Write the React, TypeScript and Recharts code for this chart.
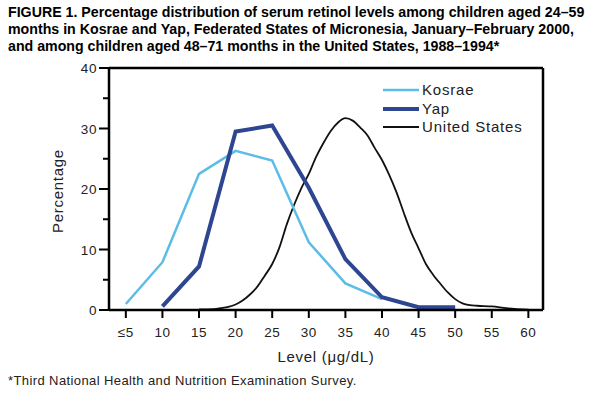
import React from 'react';
import { LineChart, Line, XAxis, YAxis, ReferenceLine } from 'recharts';

const levelTicks = [5, 10, 15, 20, 25, 30, 35, 40, 45, 50, 55, 60];
const percentTicks = [0, 5, 10, 15, 20, 25, 30, 35, 40];

const kosraeLevels = [5, 10, 15, 20, 25, 30, 35, 40];
const kosraeValues = [1.0, 7.9, 22.5, 26.3, 24.7, 11.2, 4.4, 1.8];

const yapLevels = [10, 15, 20, 25, 30, 35, 40, 45, 50];
const yapValues = [0.6, 7.2, 29.5, 30.5, 20.2, 8.4, 2.1, 0.45, 0.45];

const usLevels = [15, 17, 18, 19, 20, 21, 22, 23, 24, 25, 26, 27, 28, 29, 30, 31, 32, 33, 34, 35, 36, 37, 38, 39, 40, 41, 42, 43, 44, 45, 46, 47, 48, 49, 50, 51, 52, 53, 55, 57, 60];
const usValues = [0.1, 0.15, 0.3, 0.5, 0.9, 1.6, 2.6, 3.9, 5.7, 7.6, 10.4, 14.2, 17.4, 20.2, 22.5, 25.3, 27.6, 29.6, 31.0, 31.7, 31.3, 30.2, 28.9, 26.8, 24.8, 22.3, 19.4, 16.0, 12.8, 10.2, 7.6, 5.8, 4.3, 2.9, 1.8, 1.1, 0.8, 0.7, 0.6, 0.3, 0.05];

const seriesNames = ['Kosrae', 'Yap', 'United States'];
const seriesColors = ['#5bbde6', '#2e4691', '#111111'];
const seriesWidths = [2.5, 4, 1.8];

const toRows = (xs: number[], ys: number[]) => xs.map((x, i) => ({ x, y: ys[i] }));
const kosraeData = toRows(kosraeLevels, kosraeValues);
const yapData = toRows(yapLevels, yapValues);
const usData = toRows(usLevels, usValues);

const FONT = '"Liberation Sans", Arial, Helvetica, sans-serif';

const YTick = (props: any) => {
  const { x, y, payload } = props;
  const major = payload.value % 10 === 0;
  return (
    <g>
      <line x1={x} x2={x - (major ? 10 : 6)} y1={y} y2={y} stroke="#000" strokeWidth={2} />
      {major && (
        <text x={x - 12} y={y} dy={5} textAnchor="end" fontSize={13.5} letterSpacing={0.6} fontFamily={FONT} fill="#222">
          {payload.value}
        </text>
      )}
    </g>
  );
};

const XTick = (props: any) => {
  const { x, y, payload } = props;
  return (
    <g>
      <line x1={x} x2={x} y1={y} y2={y + 8} stroke="#000" strokeWidth={2} />
      <text x={x} y={y + 27} textAnchor="middle" fontSize={13.5} letterSpacing={0.5} fontFamily={FONT} fill="#222">
        {payload.value === 5 ? '≤5' : payload.value}
      </text>
    </g>
  );
};

export default function App() {
  return (
    <div style={{ position: 'absolute', left: 0, top: 0, width: 598, height: 398, background: '#fff' }}>
      <div
        style={{
          position: 'absolute',
          left: 8,
          top: 4,
          width: 590,
          fontFamily: FONT,
          fontWeight: 'bold',
          fontSize: 14.2,
          lineHeight: '17px',
          color: '#000',
          whiteSpace: 'nowrap',
        }}
      >
        FIGURE 1. Percentage distribution of serum retinol levels among children aged 24–59
        <br />
        months in Kosrae and Yap, Federated States of Micronesia, January–February 2000,
        <br />
        and among children aged 48–71 months in the United States, 1988–1994*
      </div>
      <div style={{ position: 'absolute', left: 0, top: 0 }}>
        <LineChart width={598} height={398} margin={{ top: 68, right: 55, bottom: 0, left: 0 }}>
          <XAxis
            dataKey="x"
            type="number"
            domain={[2.7, 62]}
            ticks={levelTicks}
            interval={0}
            height={88}
            tickSize={0}
            tickMargin={0}
            tickLine={false}
            tick={<XTick />}
            axisLine={{ stroke: '#000', strokeWidth: 2.5 }}
            allowDataOverflow
            label={{ value: 'Level (μg/dL)', position: 'insideBottom', offset: 36, fontSize: 15, letterSpacing: 0.7, fontFamily: FONT, fill: '#222' }}
          />
          <YAxis
            type="number"
            domain={[0, 40]}
            ticks={percentTicks}
            interval={0}
            width={109}
            tickSize={0}
            tickMargin={0}
            tickLine={false}
            tick={<YTick />}
            axisLine={{ stroke: '#000', strokeWidth: 2.5 }}
            label={{
              content: () => (
                <text x={63} y={191} transform="rotate(-90 63 191)" textAnchor="middle" fontSize={15} letterSpacing={0.7} fontFamily={FONT} fill="#222">
                  Percentage
                </text>
              ),
            }}
          />
          <ReferenceLine y={40} stroke="#000" strokeWidth={2.5} />
          <ReferenceLine x={62} stroke="#000" strokeWidth={2.5} />
          <Line data={usData} dataKey="y" name={seriesNames[2]} type="monotone" stroke={seriesColors[2]} strokeWidth={seriesWidths[2]} dot={false} isAnimationActive={false} />
          <Line data={kosraeData} dataKey="y" name={seriesNames[0]} type="linear" stroke={seriesColors[0]} strokeWidth={seriesWidths[0]} dot={false} isAnimationActive={false} />
          <Line data={yapData} dataKey="y" name={seriesNames[1]} type="linear" stroke={seriesColors[1]} strokeWidth={seriesWidths[1]} dot={false} isAnimationActive={false} />
        </LineChart>
      </div>
      <div style={{ position: 'absolute', left: 383, top: 81, fontFamily: FONT, fontSize: 15, letterSpacing: 0.8, color: '#222', lineHeight: '18.5px' }}>
        {seriesNames.map((n, i) => (
          <div key={n} style={{ display: 'flex', alignItems: 'center', height: 18.5 }}>
            <svg width={39} height={18} style={{ display: 'block' }}>
              <line x1={0} x2={36} y1={9} y2={9} stroke={seriesColors[i]} strokeWidth={seriesWidths[i]} />
            </svg>
            <span>{n}</span>
          </div>
        ))}
      </div>
      <div style={{ position: 'absolute', left: 8, top: 373, fontFamily: FONT, fontSize: 13, color: '#222', letterSpacing: 0.4 }}>
        *Third National Health and Nutrition Examination Survey.
      </div>
    </div>
  );
}
